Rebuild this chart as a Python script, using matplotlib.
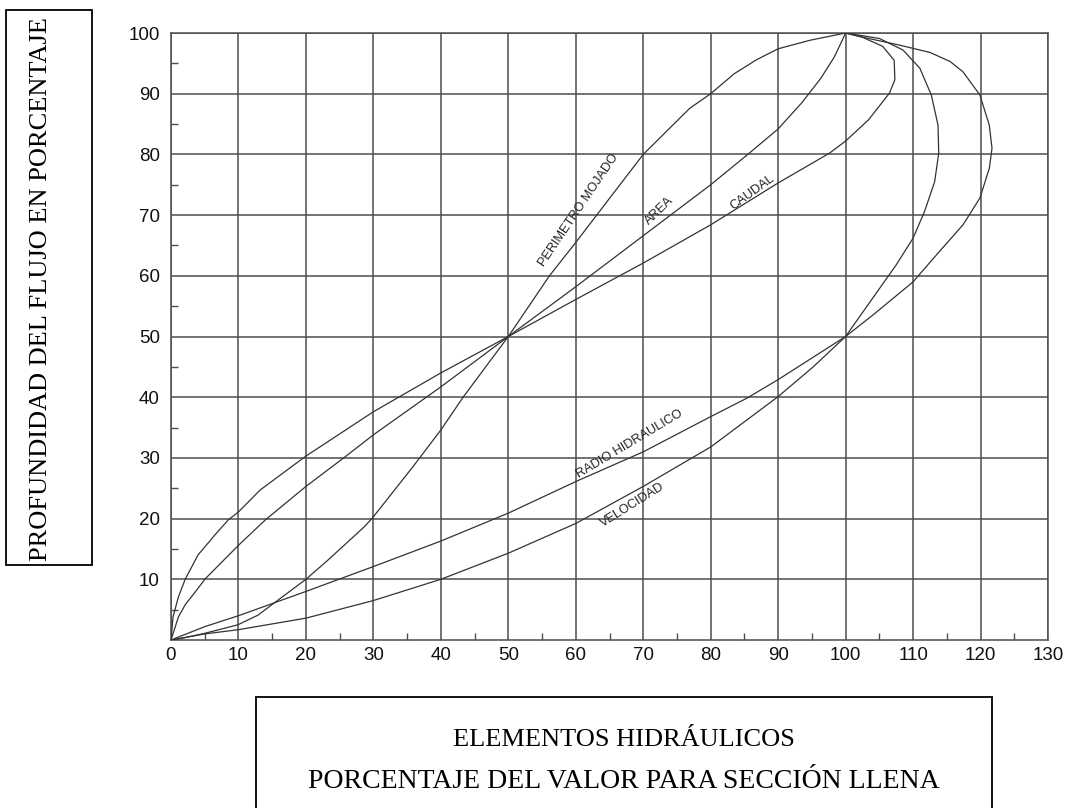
import matplotlib
matplotlib.use('Agg')
import matplotlib.pyplot as plt
from matplotlib.patches import Rectangle

# curvas (x = % del valor a sección llena, y = % de profundidad)
caudal_x = [0, 0.3, 1.1, 2.1, 4.0, 6.5, 8.5, 10, 13.2, 20, 30, 40, 50, 60, 70, 80, 90, 97.6, 100, 103.4, 106.5, 107.3, 107.2, 105.5, 102.5, 100]
caudal_y = [0, 3.8, 7.1, 10, 14, 17.3, 19.8, 21.1, 24.7, 30.3, 37.6, 44, 50, 56.1, 62.1, 68.4, 75.3, 80.2, 82.2, 85.7, 90.1, 92.3, 95.5, 97.8, 99.3, 100]

area_x = [0, 1.1, 2.1, 4, 5, 10, 14, 20, 25.6, 30, 40, 50, 60, 70, 80, 85.5, 90, 93.5, 96.3, 98.3, 99.5, 100]
area_y = [0, 3.8, 5.8, 8.5, 10, 15.6, 19.8, 25.3, 30, 33.8, 41.7, 50, 58.2, 66.6, 75, 80, 84.2, 88.5, 92.5, 96, 98.8, 100]

perimetro_x = [0, 2.1, 5, 9.9, 12.9, 15.9, 20, 23.3, 28.7, 30, 35.9, 40, 43.3, 50, 56.1, 60, 63.1, 70, 76.9, 80, 83.5, 86.8, 90, 94.7, 100]
perimetro_y = [0, 0.4, 1.1, 2.5, 4.1, 6.6, 10, 13.2, 18.7, 20.3, 28.6, 34.6, 40, 50, 60, 65.5, 70, 80, 87.6, 90, 93.3, 95.6, 97.4, 98.8, 100]

radio_x = [0, 5, 10, 20, 30, 40, 50, 60, 70, 80, 85.3, 90, 100, 104, 110, 113.9, 117.4, 119.9, 121.3, 121.7, 121.3, 119.9, 117.4, 115.5, 112.5, 108, 103, 100]
radio_y = [0, 2.2, 4, 8, 12.1, 16.3, 20.9, 26.1, 31, 36.8, 39.8, 42.9, 50, 53.5, 59, 64, 68.4, 72.8, 77.7, 81, 84.8, 89.8, 93.6, 95.3, 96.8, 98, 99.2, 100]

velocidad_x = [0, 5, 10, 20, 30, 40, 50, 60, 70, 80, 90, 95.2, 100, 104, 107.5, 110, 111.7, 113.2, 113.8, 113.7, 112.7, 111, 108.5, 105, 100]
velocidad_y = [0, 1.0, 1.7, 3.6, 6.5, 10, 14.3, 19.2, 25.3, 31.8, 40.1, 45, 50, 56.3, 61.8, 66.2, 70.6, 75.5, 80.2, 84.8, 89.8, 94.2, 97.2, 99.1, 100]

x_ticks = list(range(0, 131, 10))
y_ticks = list(range(10, 101, 10))

# etiquetas de las curvas: texto, x, y, ángulo
etiquetas = [
    ('PERIMETRO MOJADO', 60.4, 70.8, 56),
    ('AREA', 72.4, 70.7, 44),
    ('CAUDAL', 86.2, 73.8, 36),
    ('RADIO HIDRAULICO', 68.0, 32.3, 31),
    ('VELOCIDAD', 68.4, 22.2, 32),
]

sans = 'Liberation Sans'
serif = 'Liberation Serif'
color_grid = '#4d4d4d'
color_curva = '#333333'

fig = plt.figure(figsize=(10.71, 8.08), dpi=100)
ax = fig.add_axes([171 / 1071, 1 - 640 / 808, 877 / 1071, 607 / 808])

for xs, ys in [(caudal_x, caudal_y), (area_x, area_y), (perimetro_x, perimetro_y),
               (radio_x, radio_y), (velocidad_x, velocidad_y)]:
    ax.plot(xs, ys, color=color_curva, linewidth=0.9, zorder=3)

ax.set_xlim(0, 130)
ax.set_ylim(0, 100)
ax.set_xticks(x_ticks)
ax.set_yticks(y_ticks)
ax.set_xticks(range(5, 130, 10), minor=True)
ax.set_yticks(range(5, 100, 10), minor=True)
ax.grid(True, which='major', color=color_grid, linewidth=1.1)
ax.tick_params(which='major', length=0, labelsize=13.5, pad=5, labelcolor='#111111')
ax.tick_params(axis='y', which='major', pad=8)
ax.tick_params(which='minor', direction='in', length=5, width=1, color=color_grid)
for lab in ax.get_xticklabels() + ax.get_yticklabels():
    lab.set_family(sans)
for sp in ax.spines.values():
    sp.set_color(color_grid)
    sp.set_linewidth(1.1)

for texto, x, y, ang in etiquetas:
    ax.text(x, y, texto, rotation=ang, rotation_mode='anchor', ha='center', va='center',
            fontsize=9.2, family=sans, color='#222222', zorder=4)

# caja del eje vertical
fig.add_artist(Rectangle((6 / 1071, 1 - 565 / 808), 86 / 1071, 555 / 808,
                         transform=fig.transFigure, fill=False, edgecolor='black', linewidth=1.3))
fig.text(41 / 1071, 1 - 289 / 808, 'PROFUNDIDAD DEL FLUJO EN PORCENTAJE', rotation=90,
         ha='center', va='center', fontsize=19, family=serif, color='black')

# caja inferior
fig.add_artist(Rectangle((256 / 1071, -0.05), 736 / 1071, 0.05 + 111 / 808,
                         transform=fig.transFigure, fill=False, edgecolor='black', linewidth=1.3))
fig.text(624 / 1071, 1 - 740 / 808, 'ELEMENTOS HIDRÁULICOS', ha='center', va='center',
         fontsize=19, family=serif, color='black')
fig.text(624 / 1071, 1 - 781 / 808, 'PORCENTAJE DEL VALOR PARA SECCIÓN LLENA', ha='center', va='center',
         fontsize=20, family=serif, color='black')

fig.savefig('out.png', dpi=100, facecolor='white')
